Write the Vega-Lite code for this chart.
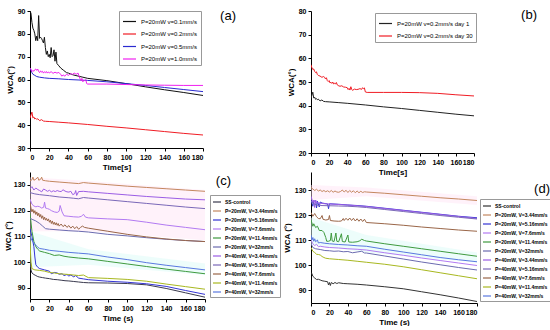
{
"$schema":"https://vega.github.io/schema/vega-lite/v6.json",
"padding":{"left":4,"top":7,"right":0,"bottom":0},
"config":{"view":{"stroke":null},"font":"Liberation Sans",
"axis":{"grid":false,"domainColor":"#000","tickColor":"#000","labelColor":"#000","titleColor":"#000","labelFontSize":7,"labelFontWeight":"bold","labelOverlap":false,"titleFontSize":8,"titleFontWeight":"bold","tickSize":3,"labelPadding":2,"titlePadding":3,"labelFont":"Liberation Sans","titleFont":"Liberation Sans"},
"legend":{"title":null,"orient":"none","symbolType":"stroke","symbolStrokeWidth":1.2,"strokeColor":"#999","labelFont":"Liberation Sans","labelColor":"#000","rowPadding":0,"fillColor":"#fff"},
"title":{"font":"Liberation Sans","fontWeight":"normal","fontSize":13,"anchor":"end","frame":"group","baseline":"top","offset":0,"color":"#000"}},
"datasets":{
"names":[{"k":0,"s":"SS-control"},{"k":1,"s":"P=20mW, V=3.44mm/s"},{"k":2,"s":"P=20mW, V=5.16mm/s"},{"k":3,"s":"P=20mW, V=7.6mm/s"},{"k":4,"s":"P=20mW, V=11.4mm/s"},{"k":5,"s":"P=20mW, V=32mm/s"},{"k":6,"s":"P=40mW, V=3.44mm/s"},{"k":7,"s":"P=40mW, V=5.16mm/s"},{"k":8,"s":"P=40mW, V=7.6mm/s"},{"k":9,"s":"P=40mW, V=11.4mm/s"},{"k":10,"s":"P=40mW, V=32mm/s"}],
"a":[
{"s":"P=20mW v=0.1mm/s","t":0,"v":90},{"s":"P=20mW v=0.1mm/s","t":1,"v":89},{"s":"P=20mW v=0.1mm/s","t":2,"v":85},{"s":"P=20mW v=0.1mm/s","t":3,"v":82.5},{"s":"P=20mW v=0.1mm/s","t":4,"v":81.5},{"s":"P=20mW v=0.1mm/s","t":5,"v":80},{"s":"P=20mW v=0.1mm/s","t":6,"v":77},{"s":"P=20mW v=0.1mm/s","t":7,"v":79},{"s":"P=20mW v=0.1mm/s","t":8,"v":77},{"s":"P=20mW v=0.1mm/s","t":9,"v":88},{"s":"P=20mW v=0.1mm/s","t":10,"v":78},{"s":"P=20mW v=0.1mm/s","t":11,"v":78.5},{"s":"P=20mW v=0.1mm/s","t":12,"v":78},{"s":"P=20mW v=0.1mm/s","t":13,"v":77},{"s":"P=20mW v=0.1mm/s","t":14,"v":76},{"s":"P=20mW v=0.1mm/s","t":15,"v":78.5},{"s":"P=20mW v=0.1mm/s","t":16,"v":74},{"s":"P=20mW v=0.1mm/s","t":17,"v":71},{"s":"P=20mW v=0.1mm/s","t":18,"v":72.5},{"s":"P=20mW v=0.1mm/s","t":19,"v":70},{"s":"P=20mW v=0.1mm/s","t":20,"v":71},{"s":"P=20mW v=0.1mm/s","t":21,"v":69.5},{"s":"P=20mW v=0.1mm/s","t":22,"v":74},{"s":"P=20mW v=0.1mm/s","t":23,"v":70},{"s":"P=20mW v=0.1mm/s","t":24,"v":70.5},{"s":"P=20mW v=0.1mm/s","t":25,"v":73},{"s":"P=20mW v=0.1mm/s","t":26,"v":68},{"s":"P=20mW v=0.1mm/s","t":27,"v":72},{"s":"P=20mW v=0.1mm/s","t":28,"v":67},{"s":"P=20mW v=0.1mm/s","t":30,"v":66},{"s":"P=20mW v=0.1mm/s","t":32,"v":65},{"s":"P=20mW v=0.1mm/s","t":35,"v":64},{"s":"P=20mW v=0.1mm/s","t":38,"v":63},{"s":"P=20mW v=0.1mm/s","t":40,"v":62.8},{"s":"P=20mW v=0.1mm/s","t":45,"v":62},{"s":"P=20mW v=0.1mm/s","t":50,"v":61.5},{"s":"P=20mW v=0.1mm/s","t":55,"v":61},{"s":"P=20mW v=0.1mm/s","t":60,"v":60.5},{"s":"P=20mW v=0.1mm/s","t":80,"v":59.5},{"s":"P=20mW v=0.1mm/s","t":100,"v":58.2},{"s":"P=20mW v=0.1mm/s","t":120,"v":56.8},{"s":"P=20mW v=0.1mm/s","t":140,"v":55.5},{"s":"P=20mW v=0.1mm/s","t":160,"v":54.3},{"s":"P=20mW v=0.1mm/s","t":180,"v":53},
{"s":"P=20mW v=0.2mm/s","t":0,"v":43},{"s":"P=20mW v=0.2mm/s","t":1,"v":44.5},{"s":"P=20mW v=0.2mm/s","t":2,"v":45.7},{"s":"P=20mW v=0.2mm/s","t":3,"v":43.2},{"s":"P=20mW v=0.2mm/s","t":4,"v":43.6},{"s":"P=20mW v=0.2mm/s","t":5,"v":42.7},{"s":"P=20mW v=0.2mm/s","t":6,"v":43},{"s":"P=20mW v=0.2mm/s","t":7,"v":42.5},{"s":"P=20mW v=0.2mm/s","t":8,"v":42.8},{"s":"P=20mW v=0.2mm/s","t":10,"v":42},{"s":"P=20mW v=0.2mm/s","t":12,"v":42.4},{"s":"P=20mW v=0.2mm/s","t":14,"v":41.8},{"s":"P=20mW v=0.2mm/s","t":16,"v":41.7},{"s":"P=20mW v=0.2mm/s","t":20,"v":41.6},{"s":"P=20mW v=0.2mm/s","t":30,"v":41.3},{"s":"P=20mW v=0.2mm/s","t":40,"v":41},{"s":"P=20mW v=0.2mm/s","t":60,"v":40.3},{"s":"P=20mW v=0.2mm/s","t":80,"v":39.5},{"s":"P=20mW v=0.2mm/s","t":100,"v":38.8},{"s":"P=20mW v=0.2mm/s","t":120,"v":38},{"s":"P=20mW v=0.2mm/s","t":140,"v":37.2},{"s":"P=20mW v=0.2mm/s","t":160,"v":36.4},{"s":"P=20mW v=0.2mm/s","t":180,"v":35.7},
{"s":"P=20mW v=0.5mm/s","t":0,"v":65},{"s":"P=20mW v=0.5mm/s","t":1,"v":64},{"s":"P=20mW v=0.5mm/s","t":2,"v":63},{"s":"P=20mW v=0.5mm/s","t":3,"v":62.3},{"s":"P=20mW v=0.5mm/s","t":5,"v":61.8},{"s":"P=20mW v=0.5mm/s","t":7,"v":61.3},{"s":"P=20mW v=0.5mm/s","t":10,"v":61},{"s":"P=20mW v=0.5mm/s","t":15,"v":60.7},{"s":"P=20mW v=0.5mm/s","t":20,"v":60.5},{"s":"P=20mW v=0.5mm/s","t":30,"v":60.3},{"s":"P=20mW v=0.5mm/s","t":40,"v":60},{"s":"P=20mW v=0.5mm/s","t":50,"v":59.8},{"s":"P=20mW v=0.5mm/s","t":60,"v":59.6},{"s":"P=20mW v=0.5mm/s","t":80,"v":59},{"s":"P=20mW v=0.5mm/s","t":100,"v":58.2},{"s":"P=20mW v=0.5mm/s","t":120,"v":57.4},{"s":"P=20mW v=0.5mm/s","t":140,"v":56.5},{"s":"P=20mW v=0.5mm/s","t":160,"v":55.6},{"s":"P=20mW v=0.5mm/s","t":180,"v":54.7},
{"s":"P=20mW v=1.0mm/s","t":0,"v":65},{"s":"P=20mW v=1.0mm/s","t":1,"v":64.5},{"s":"P=20mW v=1.0mm/s","t":2,"v":63.5},{"s":"P=20mW v=1.0mm/s","t":3,"v":64},{"s":"P=20mW v=1.0mm/s","t":4,"v":63.6},{"s":"P=20mW v=1.0mm/s","t":5,"v":64.3},{"s":"P=20mW v=1.0mm/s","t":6,"v":64.6},{"s":"P=20mW v=1.0mm/s","t":7,"v":64},{"s":"P=20mW v=1.0mm/s","t":8,"v":64.6},{"s":"P=20mW v=1.0mm/s","t":9,"v":63.5},{"s":"P=20mW v=1.0mm/s","t":10,"v":63},{"s":"P=20mW v=1.0mm/s","t":11,"v":63.8},{"s":"P=20mW v=1.0mm/s","t":12,"v":63.2},{"s":"P=20mW v=1.0mm/s","t":13,"v":63.6},{"s":"P=20mW v=1.0mm/s","t":14,"v":62.8},{"s":"P=20mW v=1.0mm/s","t":15,"v":63.4},{"s":"P=20mW v=1.0mm/s","t":16,"v":63},{"s":"P=20mW v=1.0mm/s","t":17,"v":63.5},{"s":"P=20mW v=1.0mm/s","t":18,"v":62.8},{"s":"P=20mW v=1.0mm/s","t":19,"v":63.3},{"s":"P=20mW v=1.0mm/s","t":20,"v":62.9},{"s":"P=20mW v=1.0mm/s","t":22,"v":63.4},{"s":"P=20mW v=1.0mm/s","t":24,"v":62.7},{"s":"P=20mW v=1.0mm/s","t":26,"v":63.2},{"s":"P=20mW v=1.0mm/s","t":28,"v":62.8},{"s":"P=20mW v=1.0mm/s","t":30,"v":63.1},{"s":"P=20mW v=1.0mm/s","t":32,"v":62.2},{"s":"P=20mW v=1.0mm/s","t":33,"v":61.5},{"s":"P=20mW v=1.0mm/s","t":35,"v":62},{"s":"P=20mW v=1.0mm/s","t":36,"v":61.4},{"s":"P=20mW v=1.0mm/s","t":38,"v":62.3},{"s":"P=20mW v=1.0mm/s","t":40,"v":61.8},{"s":"P=20mW v=1.0mm/s","t":42,"v":62.6},{"s":"P=20mW v=1.0mm/s","t":44,"v":62.2},{"s":"P=20mW v=1.0mm/s","t":46,"v":62.8},{"s":"P=20mW v=1.0mm/s","t":48,"v":62.3},{"s":"P=20mW v=1.0mm/s","t":50,"v":62.8},{"s":"P=20mW v=1.0mm/s","t":51,"v":61.5},{"s":"P=20mW v=1.0mm/s","t":52,"v":60.4},{"s":"P=20mW v=1.0mm/s","t":53,"v":59.5},{"s":"P=20mW v=1.0mm/s","t":54,"v":60.5},{"s":"P=20mW v=1.0mm/s","t":55,"v":59},{"s":"P=20mW v=1.0mm/s","t":56,"v":59.6},{"s":"P=20mW v=1.0mm/s","t":57,"v":59.5},{"s":"P=20mW v=1.0mm/s","t":58,"v":60},{"s":"P=20mW v=1.0mm/s","t":59,"v":58.2},{"s":"P=20mW v=1.0mm/s","t":60,"v":58},{"s":"P=20mW v=1.0mm/s","t":80,"v":58},{"s":"P=20mW v=1.0mm/s","t":100,"v":57.8},{"s":"P=20mW v=1.0mm/s","t":120,"v":57.6},{"s":"P=20mW v=1.0mm/s","t":140,"v":57.5},{"s":"P=20mW v=1.0mm/s","t":160,"v":57.4},{"s":"P=20mW v=1.0mm/s","t":180,"v":57.4}],
"b":[
{"s":"P=20mW v=0.2mm/s day 1","t":0,"v":43},{"s":"P=20mW v=0.2mm/s day 1","t":1,"v":44.5},{"s":"P=20mW v=0.2mm/s day 1","t":2,"v":45.7},{"s":"P=20mW v=0.2mm/s day 1","t":3,"v":43.2},{"s":"P=20mW v=0.2mm/s day 1","t":4,"v":43.6},{"s":"P=20mW v=0.2mm/s day 1","t":5,"v":42.7},{"s":"P=20mW v=0.2mm/s day 1","t":6,"v":43},{"s":"P=20mW v=0.2mm/s day 1","t":7,"v":42.5},{"s":"P=20mW v=0.2mm/s day 1","t":8,"v":42.8},{"s":"P=20mW v=0.2mm/s day 1","t":10,"v":42},{"s":"P=20mW v=0.2mm/s day 1","t":12,"v":42.4},{"s":"P=20mW v=0.2mm/s day 1","t":14,"v":41.8},{"s":"P=20mW v=0.2mm/s day 1","t":16,"v":41.7},{"s":"P=20mW v=0.2mm/s day 1","t":20,"v":41.6},{"s":"P=20mW v=0.2mm/s day 1","t":30,"v":41.3},{"s":"P=20mW v=0.2mm/s day 1","t":40,"v":41},{"s":"P=20mW v=0.2mm/s day 1","t":60,"v":40.3},{"s":"P=20mW v=0.2mm/s day 1","t":80,"v":39.5},{"s":"P=20mW v=0.2mm/s day 1","t":100,"v":38.8},{"s":"P=20mW v=0.2mm/s day 1","t":120,"v":38},{"s":"P=20mW v=0.2mm/s day 1","t":140,"v":37.2},{"s":"P=20mW v=0.2mm/s day 1","t":160,"v":36.4},{"s":"P=20mW v=0.2mm/s day 1","t":180,"v":35.7},
{"s":"P=20mW v=0.2mm/s day 30","t":0,"v":57.3},{"s":"P=20mW v=0.2mm/s day 30","t":1,"v":56},{"s":"P=20mW v=0.2mm/s day 30","t":2,"v":55.3},{"s":"P=20mW v=0.2mm/s day 30","t":3,"v":55.5},{"s":"P=20mW v=0.2mm/s day 30","t":4,"v":54.5},{"s":"P=20mW v=0.2mm/s day 30","t":5,"v":54},{"s":"P=20mW v=0.2mm/s day 30","t":6,"v":54.3},{"s":"P=20mW v=0.2mm/s day 30","t":7,"v":53.2},{"s":"P=20mW v=0.2mm/s day 30","t":8,"v":52.8},{"s":"P=20mW v=0.2mm/s day 30","t":10,"v":52.5},{"s":"P=20mW v=0.2mm/s day 30","t":12,"v":52},{"s":"P=20mW v=0.2mm/s day 30","t":14,"v":52.3},{"s":"P=20mW v=0.2mm/s day 30","t":15,"v":52},{"s":"P=20mW v=0.2mm/s day 30","t":16,"v":51.3},{"s":"P=20mW v=0.2mm/s day 30","t":17,"v":51.8},{"s":"P=20mW v=0.2mm/s day 30","t":18,"v":50.6},{"s":"P=20mW v=0.2mm/s day 30","t":19,"v":50.2},{"s":"P=20mW v=0.2mm/s day 30","t":20,"v":50.6},{"s":"P=20mW v=0.2mm/s day 30","t":21,"v":49.6},{"s":"P=20mW v=0.2mm/s day 30","t":22,"v":49.9},{"s":"P=20mW v=0.2mm/s day 30","t":23,"v":49.4},{"s":"P=20mW v=0.2mm/s day 30","t":24,"v":50},{"s":"P=20mW v=0.2mm/s day 30","t":25,"v":49.2},{"s":"P=20mW v=0.2mm/s day 30","t":26,"v":49.5},{"s":"P=20mW v=0.2mm/s day 30","t":27,"v":49.1},{"s":"P=20mW v=0.2mm/s day 30","t":28,"v":49.8},{"s":"P=20mW v=0.2mm/s day 30","t":29,"v":48.8},{"s":"P=20mW v=0.2mm/s day 30","t":30,"v":48.5},{"s":"P=20mW v=0.2mm/s day 30","t":32,"v":48.2},{"s":"P=20mW v=0.2mm/s day 30","t":34,"v":48.4},{"s":"P=20mW v=0.2mm/s day 30","t":36,"v":47.9},{"s":"P=20mW v=0.2mm/s day 30","t":38,"v":47.8},{"s":"P=20mW v=0.2mm/s day 30","t":40,"v":47.6},{"s":"P=20mW v=0.2mm/s day 30","t":41,"v":46.8},{"s":"P=20mW v=0.2mm/s day 30","t":42,"v":47.3},{"s":"P=20mW v=0.2mm/s day 30","t":43,"v":46.6},{"s":"P=20mW v=0.2mm/s day 30","t":44,"v":48},{"s":"P=20mW v=0.2mm/s day 30","t":45,"v":46.8},{"s":"P=20mW v=0.2mm/s day 30","t":46,"v":46.5},{"s":"P=20mW v=0.2mm/s day 30","t":48,"v":47},{"s":"P=20mW v=0.2mm/s day 30","t":50,"v":46.8},{"s":"P=20mW v=0.2mm/s day 30","t":52,"v":46.9},{"s":"P=20mW v=0.2mm/s day 30","t":54,"v":47.2},{"s":"P=20mW v=0.2mm/s day 30","t":56,"v":46.9},{"s":"P=20mW v=0.2mm/s day 30","t":57,"v":47.6},{"s":"P=20mW v=0.2mm/s day 30","t":58,"v":47.2},{"s":"P=20mW v=0.2mm/s day 30","t":59,"v":47.5},{"s":"P=20mW v=0.2mm/s day 30","t":60,"v":45.8},{"s":"P=20mW v=0.2mm/s day 30","t":62,"v":45.6},{"s":"P=20mW v=0.2mm/s day 30","t":80,"v":45.6},{"s":"P=20mW v=0.2mm/s day 30","t":100,"v":45.6},{"s":"P=20mW v=0.2mm/s day 30","t":120,"v":45.5},{"s":"P=20mW v=0.2mm/s day 30","t":140,"v":45.2},{"s":"P=20mW v=0.2mm/s day 30","t":160,"v":44.6},{"s":"P=20mW v=0.2mm/s day 30","t":180,"v":44.1}],
"cpink":[{"t":0,"v":112,"v2":133},{"t":60,"v":112,"v2":131.5},{"t":180,"v":108.5,"v2":128}],
"ccyan":[{"t":0,"v":98,"v2":112},{"t":60,"v":99,"v2":105},{"t":180,"v":95,"v2":99.5}],
"dpink":[{"t":0,"v":126,"v2":132},{"t":60,"v":127.5,"v2":131},{"t":180,"v":124,"v2":127.5}],
"dcyan":[{"t":0,"v":108,"v2":119},{"t":60,"v":105,"v2":112},{"t":180,"v":101,"v2":105}],
"c":[
{"k":0,"t":0,"v":104},{"k":0,"t":1,"v":97},{"k":0,"t":2,"v":95.8},{"k":0,"t":4,"v":95.2},{"k":0,"t":6,"v":94.8},{"k":0,"t":8,"v":94.4},{"k":0,"t":10,"v":94.2},{"k":0,"t":13,"v":94},{"k":0,"t":16,"v":93.8},{"k":0,"t":20,"v":93.6},{"k":0,"t":24,"v":93.3},{"k":0,"t":28,"v":93.2},{"k":0,"t":32,"v":93},{"k":0,"t":36,"v":92.8},{"k":0,"t":40,"v":92.7},{"k":0,"t":45,"v":92.5},{"k":0,"t":50,"v":92.3},{"k":0,"t":55,"v":92.1},{"k":0,"t":60,"v":92},{"k":0,"t":80,"v":91.9},{"k":0,"t":100,"v":91.7},{"k":0,"t":120,"v":91.2},{"k":0,"t":140,"v":89.8},{"k":0,"t":160,"v":88.1},{"k":0,"t":180,"v":86.4},
{"k":1,"t":0,"v":131.5},{"k":1,"t":2,"v":132},{"k":1,"t":3,"v":133},{"k":1,"t":4,"v":131.8},{"k":1,"t":6,"v":132.2},{"k":1,"t":8,"v":133},{"k":1,"t":9,"v":131.8},{"k":1,"t":11,"v":132.2},{"k":1,"t":12,"v":133},{"k":1,"t":13,"v":131.8},{"k":1,"t":16,"v":131.6},{"k":1,"t":20,"v":131.4},{"k":1,"t":30,"v":131.1},{"k":1,"t":40,"v":130.8},{"k":1,"t":50,"v":130.5},{"k":1,"t":55,"v":130.9},{"k":1,"t":60,"v":130.7},{"k":1,"t":80,"v":130.1},{"k":1,"t":100,"v":129.5},{"k":1,"t":120,"v":129},{"k":1,"t":140,"v":128.5},{"k":1,"t":160,"v":128},{"k":1,"t":180,"v":127.5},
{"k":2,"t":0,"v":113},{"k":2,"t":2,"v":110},{"k":2,"t":4,"v":106},{"k":2,"t":5,"v":102},{"k":2,"t":6,"v":99},{"k":2,"t":8,"v":98},{"k":2,"t":10,"v":97.5},{"k":2,"t":15,"v":97},{"k":2,"t":20,"v":96.5},{"k":2,"t":22,"v":95.5},{"k":2,"t":25,"v":96},{"k":2,"t":28,"v":95.8},{"k":2,"t":30,"v":95.3},{"k":2,"t":33,"v":95.5},{"k":2,"t":35,"v":94.8},{"k":2,"t":38,"v":95.2},{"k":2,"t":40,"v":94.6},{"k":2,"t":42,"v":95},{"k":2,"t":45,"v":94.3},{"k":2,"t":47,"v":94.8},{"k":2,"t":50,"v":93.8},{"k":2,"t":55,"v":93.5},{"k":2,"t":60,"v":93.2},{"k":2,"t":80,"v":92.6},{"k":2,"t":100,"v":92.2},{"k":2,"t":120,"v":91.6},{"k":2,"t":140,"v":90.6},{"k":2,"t":160,"v":89},{"k":2,"t":180,"v":87.5},
{"k":3,"t":0,"v":124.5},{"k":3,"t":2,"v":122.5},{"k":3,"t":4,"v":121.8},{"k":3,"t":6,"v":121.5},{"k":3,"t":8,"v":121.7},{"k":3,"t":10,"v":121.5},{"k":3,"t":12,"v":121},{"k":3,"t":14,"v":121.3},{"k":3,"t":15,"v":123.3},{"k":3,"t":16,"v":121},{"k":3,"t":18,"v":120.8},{"k":3,"t":20,"v":120.5},{"k":3,"t":22,"v":120},{"k":3,"t":25,"v":119.5},{"k":3,"t":28,"v":119.3},{"k":3,"t":30,"v":119.8},{"k":3,"t":31,"v":122},{"k":3,"t":33,"v":119.5},{"k":3,"t":35,"v":118},{"k":3,"t":40,"v":117.8},{"k":3,"t":45,"v":117.6},{"k":3,"t":50,"v":117.5},{"k":3,"t":53,"v":117.8},{"k":3,"t":55,"v":118.6},{"k":3,"t":57,"v":117.5},{"k":3,"t":60,"v":117.2},{"k":3,"t":80,"v":116.8},{"k":3,"t":100,"v":116.5},{"k":3,"t":120,"v":115.5},{"k":3,"t":140,"v":114.4},{"k":3,"t":160,"v":113.5},{"k":3,"t":180,"v":112.6},
{"k":4,"t":0,"v":119},{"k":4,"t":2,"v":112},{"k":4,"t":4,"v":108},{"k":4,"t":6,"v":106},{"k":4,"t":8,"v":105},{"k":4,"t":10,"v":104.3},{"k":4,"t":15,"v":103.8},{"k":4,"t":20,"v":103.3},{"k":4,"t":25,"v":102.6},{"k":4,"t":30,"v":102.8},{"k":4,"t":35,"v":102.3},{"k":4,"t":40,"v":102},{"k":4,"t":50,"v":101.6},{"k":4,"t":60,"v":101.3},{"k":4,"t":80,"v":100.3},{"k":4,"t":100,"v":99.3},{"k":4,"t":120,"v":98.3},{"k":4,"t":140,"v":97.3},{"k":4,"t":160,"v":96.4},{"k":4,"t":180,"v":95.5},
{"k":5,"t":0,"v":117},{"k":5,"t":3,"v":116.5},{"k":5,"t":6,"v":116},{"k":5,"t":10,"v":115},{"k":5,"t":13,"v":114},{"k":5,"t":16,"v":113},{"k":5,"t":20,"v":112.8},{"k":5,"t":30,"v":112.5},{"k":5,"t":40,"v":112.2},{"k":5,"t":50,"v":112},{"k":5,"t":60,"v":111.7},{"k":5,"t":80,"v":110.8},{"k":5,"t":100,"v":110.2},{"k":5,"t":120,"v":109.5},{"k":5,"t":140,"v":108.9},{"k":5,"t":160,"v":108.4},{"k":5,"t":180,"v":108},
{"k":6,"t":0,"v":128.5},{"k":6,"t":2,"v":129.3},{"k":6,"t":4,"v":128},{"k":6,"t":6,"v":128.8},{"k":6,"t":8,"v":128.2},{"k":6,"t":10,"v":127.8},{"k":6,"t":12,"v":127.3},{"k":6,"t":14,"v":128.4},{"k":6,"t":16,"v":128},{"k":6,"t":18,"v":127.5},{"k":6,"t":20,"v":127.9},{"k":6,"t":22,"v":127.3},{"k":6,"t":24,"v":127.7},{"k":6,"t":26,"v":127.4},{"k":6,"t":28,"v":127.8},{"k":6,"t":30,"v":127.5},{"k":6,"t":32,"v":127.4},{"k":6,"t":34,"v":128.1},{"k":6,"t":36,"v":127.6},{"k":6,"t":38,"v":127.3},{"k":6,"t":40,"v":127.2},{"k":6,"t":42,"v":127.5},{"k":6,"t":44,"v":126.2},{"k":6,"t":46,"v":126.6},{"k":6,"t":47,"v":127.8},{"k":6,"t":48,"v":125.9},{"k":6,"t":50,"v":127.4},{"k":6,"t":55,"v":127.5},{"k":6,"t":60,"v":127.3},{"k":6,"t":80,"v":126.7},{"k":6,"t":100,"v":126.1},{"k":6,"t":120,"v":125.5},{"k":6,"t":140,"v":125},{"k":6,"t":160,"v":124.5},{"k":6,"t":180,"v":124.2},
{"k":7,"t":0,"v":127},{"k":7,"t":5,"v":126.5},{"k":7,"t":10,"v":126.2},{"k":7,"t":20,"v":125.8},{"k":7,"t":30,"v":125.3},{"k":7,"t":40,"v":125},{"k":7,"t":45,"v":124.8},{"k":7,"t":50,"v":124.6},{"k":7,"t":55,"v":125.1},{"k":7,"t":60,"v":124.9},{"k":7,"t":80,"v":124.2},{"k":7,"t":100,"v":123.5},{"k":7,"t":120,"v":122.8},{"k":7,"t":140,"v":122.1},{"k":7,"t":160,"v":121.4},{"k":7,"t":180,"v":120.8},
{"k":8,"t":0,"v":123},{"k":8,"t":1,"v":121},{"k":8,"t":2,"v":119.5},{"k":8,"t":3,"v":120.5},{"k":8,"t":4,"v":119},{"k":8,"t":5,"v":120},{"k":8,"t":6,"v":118.5},{"k":8,"t":7,"v":119.5},{"k":8,"t":8,"v":118},{"k":8,"t":9,"v":119},{"k":8,"t":10,"v":117.5},{"k":8,"t":11,"v":118.5},{"k":8,"t":12,"v":117},{"k":8,"t":13,"v":118},{"k":8,"t":14,"v":116.5},{"k":8,"t":15,"v":117.5},{"k":8,"t":16,"v":116.3},{"k":8,"t":17,"v":117},{"k":8,"t":18,"v":116},{"k":8,"t":19,"v":116.8},{"k":8,"t":20,"v":115.5},{"k":8,"t":21,"v":116.3},{"k":8,"t":22,"v":115},{"k":8,"t":23,"v":116},{"k":8,"t":24,"v":114.7},{"k":8,"t":25,"v":115.5},{"k":8,"t":26,"v":114.5},{"k":8,"t":27,"v":115.3},{"k":8,"t":28,"v":114.3},{"k":8,"t":29,"v":115},{"k":8,"t":30,"v":114},{"k":8,"t":32,"v":114.8},{"k":8,"t":34,"v":113.8},{"k":8,"t":36,"v":114.5},{"k":8,"t":38,"v":113.5},{"k":8,"t":40,"v":114.2},{"k":8,"t":42,"v":113.2},{"k":8,"t":44,"v":114},{"k":8,"t":46,"v":113},{"k":8,"t":48,"v":113.8},{"k":8,"t":50,"v":112.8},{"k":8,"t":52,"v":113.5},{"k":8,"t":54,"v":114},{"k":8,"t":56,"v":113.5},{"k":8,"t":60,"v":113.2},{"k":8,"t":80,"v":112},{"k":8,"t":100,"v":110.8},{"k":8,"t":120,"v":109.8},{"k":8,"t":140,"v":109},{"k":8,"t":160,"v":108.4},{"k":8,"t":180,"v":108},
{"k":9,"t":0,"v":108},{"k":9,"t":1,"v":100},{"k":9,"t":2,"v":97.5},{"k":9,"t":5,"v":97},{"k":9,"t":10,"v":96.8},{"k":9,"t":15,"v":96.5},{"k":9,"t":20,"v":96},{"k":9,"t":25,"v":95.8},{"k":9,"t":30,"v":95.5},{"k":9,"t":40,"v":95.2},{"k":9,"t":50,"v":94.8},{"k":9,"t":55,"v":95},{"k":9,"t":60,"v":94},{"k":9,"t":80,"v":93.7},{"k":9,"t":100,"v":93.3},{"k":9,"t":120,"v":92.6},{"k":9,"t":140,"v":91.5},{"k":9,"t":160,"v":90.5},{"k":9,"t":180,"v":89.5},
{"k":10,"t":0,"v":110},{"k":10,"t":2,"v":108.5},{"k":10,"t":5,"v":107},{"k":10,"t":8,"v":105.8},{"k":10,"t":10,"v":105.3},{"k":10,"t":15,"v":105},{"k":10,"t":20,"v":104.6},{"k":10,"t":30,"v":104.2},{"k":10,"t":40,"v":103.8},{"k":10,"t":50,"v":103.5},{"k":10,"t":60,"v":103.2},{"k":10,"t":80,"v":102},{"k":10,"t":100,"v":101},{"k":10,"t":120,"v":99.8},{"k":10,"t":140,"v":98.8},{"k":10,"t":160,"v":97.9},{"k":10,"t":180,"v":97}],
"d":[
{"k":0,"t":0,"v":97},{"k":0,"t":1,"v":96.5},{"k":0,"t":2,"v":95.5},{"k":0,"t":4,"v":94.8},{"k":0,"t":6,"v":94.2},{"k":0,"t":8,"v":94.3},{"k":0,"t":10,"v":94},{"k":0,"t":12,"v":93.7},{"k":0,"t":15,"v":93.5},{"k":0,"t":18,"v":93.3},{"k":0,"t":19,"v":92},{"k":0,"t":20,"v":93},{"k":0,"t":21,"v":91.8},{"k":0,"t":22,"v":93},{"k":0,"t":24,"v":92.5},{"k":0,"t":26,"v":93},{"k":0,"t":28,"v":92.6},{"k":0,"t":30,"v":92.9},{"k":0,"t":35,"v":92.6},{"k":0,"t":40,"v":92.5},{"k":0,"t":50,"v":92.3},{"k":0,"t":60,"v":92},{"k":0,"t":80,"v":91.3},{"k":0,"t":100,"v":90.5},{"k":0,"t":120,"v":89.3},{"k":0,"t":140,"v":88.1},{"k":0,"t":160,"v":86.8},{"k":0,"t":180,"v":85.4},
{"k":1,"t":0,"v":131},{"k":1,"t":2,"v":130.4},{"k":1,"t":4,"v":129.8},{"k":1,"t":6,"v":130.3},{"k":1,"t":8,"v":129.6},{"k":1,"t":10,"v":130},{"k":1,"t":12,"v":129.4},{"k":1,"t":14,"v":129.8},{"k":1,"t":16,"v":129.3},{"k":1,"t":18,"v":129.7},{"k":1,"t":20,"v":129.2},{"k":1,"t":22,"v":129.8},{"k":1,"t":24,"v":129.1},{"k":1,"t":26,"v":129.6},{"k":1,"t":28,"v":129.2},{"k":1,"t":30,"v":129.1},{"k":1,"t":32,"v":129.4},{"k":1,"t":34,"v":130},{"k":1,"t":36,"v":129.2},{"k":1,"t":38,"v":129.9},{"k":1,"t":40,"v":129},{"k":1,"t":42,"v":129.8},{"k":1,"t":44,"v":129.1},{"k":1,"t":46,"v":129.7},{"k":1,"t":48,"v":128.9},{"k":1,"t":50,"v":129.6},{"k":1,"t":52,"v":128.9},{"k":1,"t":54,"v":129.5},{"k":1,"t":56,"v":129},{"k":1,"t":58,"v":129.3},{"k":1,"t":60,"v":129.2},{"k":1,"t":80,"v":128.7},{"k":1,"t":100,"v":128.1},{"k":1,"t":120,"v":127.5},{"k":1,"t":140,"v":126.9},{"k":1,"t":160,"v":126.4},{"k":1,"t":180,"v":125.8},
{"k":2,"t":0,"v":126},{"k":2,"t":2,"v":123.5},{"k":2,"t":3,"v":125.5},{"k":2,"t":5,"v":125.8},{"k":2,"t":6,"v":122.8},{"k":2,"t":7,"v":125.5},{"k":2,"t":9,"v":123.2},{"k":2,"t":10,"v":125.2},{"k":2,"t":12,"v":124.8},{"k":2,"t":15,"v":124.6},{"k":2,"t":18,"v":124.4},{"k":2,"t":19,"v":122.5},{"k":2,"t":20,"v":124.5},{"k":2,"t":30,"v":124.3},{"k":2,"t":40,"v":124},{"k":2,"t":50,"v":123.8},{"k":2,"t":60,"v":123.5},{"k":2,"t":80,"v":122.7},{"k":2,"t":100,"v":121.9},{"k":2,"t":120,"v":121.1},{"k":2,"t":140,"v":120.3},{"k":2,"t":160,"v":119.5},{"k":2,"t":180,"v":118.9},
{"k":3,"t":0,"v":110},{"k":3,"t":2,"v":108.5},{"k":3,"t":4,"v":107.8},{"k":3,"t":6,"v":108.3},{"k":3,"t":8,"v":107.3},{"k":3,"t":10,"v":107.5},{"k":3,"t":15,"v":107.2},{"k":3,"t":20,"v":107},{"k":3,"t":30,"v":106.8},{"k":3,"t":40,"v":106.5},{"k":3,"t":50,"v":106.3},{"k":3,"t":60,"v":106},{"k":3,"t":80,"v":104.9},{"k":3,"t":100,"v":103.9},{"k":3,"t":120,"v":102.8},{"k":3,"t":140,"v":101.8},{"k":3,"t":160,"v":100.8},{"k":3,"t":180,"v":99.8},
{"k":4,"t":0,"v":118},{"k":4,"t":2,"v":115.5},{"k":4,"t":3,"v":116.5},{"k":4,"t":5,"v":115},{"k":4,"t":7,"v":115.5},{"k":4,"t":9,"v":113.8},{"k":4,"t":12,"v":113.8},{"k":4,"t":14,"v":113},{"k":4,"t":16,"v":111},{"k":4,"t":17,"v":109.5},{"k":4,"t":19,"v":109.5},{"k":4,"t":21,"v":109.8},{"k":4,"t":22,"v":112.8},{"k":4,"t":23,"v":109.6},{"k":4,"t":25,"v":109.4},{"k":4,"t":27,"v":112.8},{"k":4,"t":28,"v":109.5},{"k":4,"t":30,"v":109.3},{"k":4,"t":33,"v":112.5},{"k":4,"t":34,"v":109.4},{"k":4,"t":37,"v":109.2},{"k":4,"t":40,"v":112},{"k":4,"t":41,"v":109.2},{"k":4,"t":45,"v":109.1},{"k":4,"t":50,"v":109.3},{"k":4,"t":53,"v":109.7},{"k":4,"t":55,"v":110.3},{"k":4,"t":58,"v":109.8},{"k":4,"t":60,"v":109.6},{"k":4,"t":80,"v":108.5},{"k":4,"t":100,"v":107.5},{"k":4,"t":120,"v":106.5},{"k":4,"t":140,"v":105.5},{"k":4,"t":160,"v":104.5},{"k":4,"t":180,"v":103.5},
{"k":5,"t":0,"v":108.5},{"k":5,"t":2,"v":107},{"k":5,"t":5,"v":106.5},{"k":5,"t":10,"v":106.2},{"k":5,"t":15,"v":105.8},{"k":5,"t":20,"v":105.7},{"k":5,"t":25,"v":105.5},{"k":5,"t":30,"v":105.6},{"k":5,"t":35,"v":105.3},{"k":5,"t":40,"v":105.4},{"k":5,"t":45,"v":104.9},{"k":5,"t":50,"v":105.2},{"k":5,"t":55,"v":105.5},{"k":5,"t":58,"v":104.8},{"k":5,"t":60,"v":104.8},{"k":5,"t":80,"v":103.6},{"k":5,"t":100,"v":102.4},{"k":5,"t":120,"v":101.2},{"k":5,"t":140,"v":100.1},{"k":5,"t":160,"v":99},{"k":5,"t":180,"v":98},
{"k":6,"t":0,"v":127.5},{"k":6,"t":2,"v":125},{"k":6,"t":3,"v":126},{"k":6,"t":4,"v":123},{"k":6,"t":5,"v":126},{"k":6,"t":6,"v":125},{"k":6,"t":8,"v":124.8},{"k":6,"t":10,"v":124.7},{"k":6,"t":15,"v":124.5},{"k":6,"t":20,"v":124.4},{"k":6,"t":30,"v":124.2},{"k":6,"t":40,"v":124},{"k":6,"t":50,"v":123.7},{"k":6,"t":60,"v":123.4},{"k":6,"t":80,"v":122.6},{"k":6,"t":100,"v":121.8},{"k":6,"t":120,"v":121},{"k":6,"t":140,"v":120.2},{"k":6,"t":160,"v":119.4},{"k":6,"t":180,"v":118.6},
{"k":7,"t":0,"v":125.5},{"k":7,"t":3,"v":124.5},{"k":7,"t":6,"v":124},{"k":7,"t":10,"v":123.8},{"k":7,"t":20,"v":123.7},{"k":7,"t":30,"v":123.6},{"k":7,"t":40,"v":123.5},{"k":7,"t":50,"v":123.3},{"k":7,"t":60,"v":123},{"k":7,"t":80,"v":122.2},{"k":7,"t":100,"v":121.4},{"k":7,"t":120,"v":120.6},{"k":7,"t":140,"v":119.8},{"k":7,"t":160,"v":119.1},{"k":7,"t":180,"v":118.4},
{"k":8,"t":0,"v":121},{"k":8,"t":2,"v":119.5},{"k":8,"t":4,"v":120.6},{"k":8,"t":6,"v":119.3},{"k":8,"t":8,"v":118.6},{"k":8,"t":10,"v":118.5},{"k":8,"t":12,"v":119.8},{"k":8,"t":13,"v":118.3},{"k":8,"t":16,"v":118},{"k":8,"t":19,"v":118.2},{"k":8,"t":20,"v":119.8},{"k":8,"t":21,"v":117.8},{"k":8,"t":25,"v":117.6},{"k":8,"t":30,"v":117.5},{"k":8,"t":33,"v":117.6},{"k":8,"t":35,"v":118.6},{"k":8,"t":36,"v":117.8},{"k":8,"t":38,"v":118.7},{"k":8,"t":40,"v":117.9},{"k":8,"t":42,"v":118.8},{"k":8,"t":44,"v":117.8},{"k":8,"t":46,"v":118.7},{"k":8,"t":48,"v":117.6},{"k":8,"t":50,"v":118.5},{"k":8,"t":52,"v":117.5},{"k":8,"t":54,"v":118.4},{"k":8,"t":56,"v":117.4},{"k":8,"t":58,"v":118.3},{"k":8,"t":60,"v":117},{"k":8,"t":80,"v":116.5},{"k":8,"t":100,"v":115.9},{"k":8,"t":120,"v":115.2},{"k":8,"t":140,"v":114.6},{"k":8,"t":160,"v":114},{"k":8,"t":180,"v":113.5},
{"k":9,"t":0,"v":107},{"k":9,"t":2,"v":105.5},{"k":9,"t":4,"v":105},{"k":9,"t":6,"v":104.3},{"k":9,"t":8,"v":104.2},{"k":9,"t":10,"v":104},{"k":9,"t":12,"v":103.4},{"k":9,"t":14,"v":103},{"k":9,"t":16,"v":102.7},{"k":9,"t":20,"v":102.5},{"k":9,"t":30,"v":102.2},{"k":9,"t":40,"v":101.9},{"k":9,"t":50,"v":101.5},{"k":9,"t":60,"v":101.1},{"k":9,"t":80,"v":100.3},{"k":9,"t":100,"v":99.3},{"k":9,"t":120,"v":98.1},{"k":9,"t":140,"v":96.9},{"k":9,"t":160,"v":95.7},{"k":9,"t":180,"v":94.5},
{"k":10,"t":0,"v":112},{"k":10,"t":1,"v":110},{"k":10,"t":2,"v":111},{"k":10,"t":3,"v":109.5},{"k":10,"t":4,"v":110.5},{"k":10,"t":5,"v":109.3},{"k":10,"t":7,"v":110},{"k":10,"t":8,"v":108.8},{"k":10,"t":10,"v":109},{"k":10,"t":15,"v":108.7},{"k":10,"t":20,"v":108.5},{"k":10,"t":30,"v":108.2},{"k":10,"t":40,"v":108},{"k":10,"t":50,"v":107.7},{"k":10,"t":60,"v":107.5},{"k":10,"t":80,"v":106.3},{"k":10,"t":100,"v":105.2},{"k":10,"t":120,"v":104.1},{"k":10,"t":140,"v":103},{"k":10,"t":160,"v":102.1},{"k":10,"t":180,"v":101.3}]
},
"columns":2,
"spacing":{"row":19,"column":106},
"bounds":"flush",
"resolve":{"scale":{"color":"independent","x":"independent","y":"independent"},"legend":{"color":"independent"},"axis":{"x":"independent","y":"independent"}},
"concat":[
{"width":173,"height":137,
"title":{"text":"(a)","dx":33,"dy":20},
"data":{"name":"a"},
"mark":{"type":"line","strokeWidth":1,"clip":true},
"encoding":{
"x":{"field":"t","type":"quantitative","scale":{"domain":[0,180],"nice":false},"axis":{"title":"Time[s]","values":[0,20,40,60,80,100,120,140,160,180]}},
"y":{"field":"v","type":"quantitative","scale":{"domain":[30,90],"nice":false,"zero":false},"axis":{"title":"WCA(°)","values":[30,40,50,60,70,80,90]}},
"color":{"field":"s","type":"nominal","scale":{"domain":["P=20mW v=0.1mm/s","P=20mW v=0.2mm/s","P=20mW v=0.5mm/s","P=20mW v=1.0mm/s"],"range":["#111111","#f01c24","#2a2ad0","#f020f0"]},
"legend":{"legendX":89,"legendY":0,"symbolSize":170,"labelFontSize":6,"rowPadding":1.5,"padding":3}}}},
{"width":163,"height":142,
"title":{"text":"(b)","dx":63,"dy":19},
"data":{"name":"b"},
"mark":{"type":"line","strokeWidth":1,"clip":true},
"encoding":{
"x":{"field":"t","type":"quantitative","scale":{"domain":[0,180],"nice":false},"axis":{"title":"Time[s]","values":[0,20,40,60,80,100,120,140,160,180]}},
"y":{"field":"v","type":"quantitative","scale":{"domain":[20,80],"nice":false,"zero":false},"axis":{"title":"WCA(°)","values":[20,30,40,50,60,70,80]}},
"color":{"field":"s","type":"nominal","scale":{"domain":["P=20mW v=0.2mm/s day 1","P=20mW v=0.2mm/s day 30"],"range":["#222222","#f01c24"]},
"legend":{"legendX":64,"legendY":2,"symbolSize":170,"labelFontSize":6,"rowPadding":1.5,"padding":3}}}},
{"width":175,"height":127,
"title":{"text":"(c)","dx":26,"dy":20},
"encoding":{
"x":{"field":"t","type":"quantitative","scale":{"domain":[0,180],"nice":false},"axis":{"title":"Time (s)","values":[0,20,40,60,80,100,120,140,160,180]}},
"y":{"field":"v","type":"quantitative","scale":{"domain":[85.7,135],"nice":false,"zero":false},"axis":{"title":"WCA (°)","values":[90,100,110,120,130],"titlePadding":1}}},
"layer":[
{"data":{"name":"cpink"},"mark":{"type":"area","color":"#ffe3f3","opacity":0.45,"clip":true},"encoding":{"y2":{"field":"v2"}}},
{"data":{"name":"ccyan"},"mark":{"type":"area","color":"#dcfbf8","opacity":0.5,"clip":true},"encoding":{"y2":{"field":"v2"}}},
{"data":{"name":"c"},"transform":[{"lookup":"k","from":{"data":{"name":"names"},"key":"k","fields":["s"]}}],
"mark":{"type":"line","strokeWidth":1,"clip":true},
"encoding":{"color":{"field":"s","type":"nominal","scale":{"domain":["SS-control","P=20mW, V=3.44mm/s","P=20mW, V=5.16mm/s","P=20mW, V=7.6mm/s","P=20mW, V=11.4mm/s","P=20mW, V=32mm/s","P=40mW, V=3.44mm/s","P=40mW, V=5.16mm/s","P=40mW, V=7.6mm/s","P=40mW, V=11.4mm/s","P=40mW, V=32mm/s"],"range":["#3a3a4e","#c4875f","#3434d4","#b27af2","#3f9a3f","#6b6bb0","#9b5de5","#7a68b8","#9a6648","#a8b820","#5a78e0"]},
"legend":{"legendX":180,"legendY":23,"symbolSize":64,"labelFontSize":5,"labelOffset":3,"labelFontWeight":"bold","rowPadding":1,"padding":2}}}}
]},
{"width":166,"height":131,
"title":{"text":"(d)","dx":73,"dy":28},
"encoding":{
"x":{"field":"t","type":"quantitative","scale":{"domain":[0,180],"nice":false},"axis":{"title":"Time (s)","values":[0,20,40,60,80,100,120,140,160,180]}},
"y":{"field":"v","type":"quantitative","scale":{"domain":[84.8,137.2],"nice":false,"zero":false},"axis":{"title":"WCA (°)","values":[90,100,110,120,130],"titlePadding":3}}},
"layer":[
{"data":{"name":"dpink"},"mark":{"type":"area","color":"#ffe3f3","opacity":0.45,"clip":true},"encoding":{"y2":{"field":"v2"}}},
{"data":{"name":"dcyan"},"mark":{"type":"area","color":"#dcfbf8","opacity":0.5,"clip":true},"encoding":{"y2":{"field":"v2"}}},
{"data":{"name":"d"},"transform":[{"lookup":"k","from":{"data":{"name":"names"},"key":"k","fields":["s"]}}],
"mark":{"type":"line","strokeWidth":1,"clip":true},
"encoding":{"color":{"field":"s","type":"nominal","scale":{"domain":["SS-control","P=20mW, V=3.44mm/s","P=20mW, V=5.16mm/s","P=20mW, V=7.6mm/s","P=20mW, V=11.4mm/s","P=20mW, V=32mm/s","P=40mW, V=3.44mm/s","P=40mW, V=5.16mm/s","P=40mW, V=7.6mm/s","P=40mW, V=11.4mm/s","P=40mW, V=32mm/s"],"range":["#333333","#c4875f","#3434d4","#b27af2","#3f9a3f","#6b6bb0","#9b5de5","#7a68b8","#9a6648","#a8b820","#5a78e0"]},
"legend":{"legendX":169,"legendY":27,"symbolSize":64,"labelFontSize":5,"labelOffset":3,"labelFontWeight":"bold","rowPadding":1,"padding":2}}}}
]}
]
}
